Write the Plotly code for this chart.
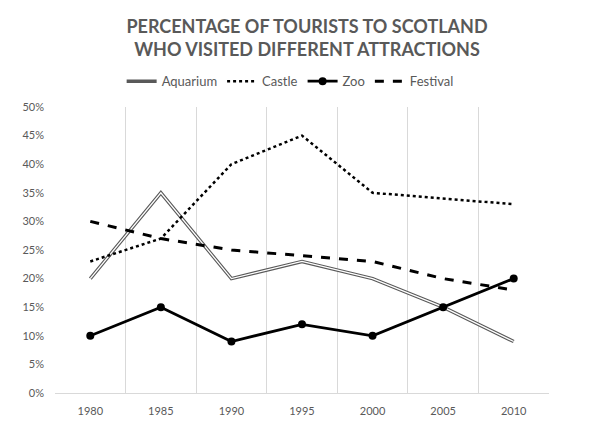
import plotly.graph_objects as go

years = ["1980", "1985", "1990", "1995", "2000", "2005", "2010"]
aquarium = [20, 35, 20, 23, 20, 15, 9]
castle = [23, 27, 40, 45, 35, 34, 33]
zoo = [10, 15, 9, 12, 10, 15, 20]
festival = [30, 27, 25, 24, 23, 20, 18]
y_ticks = [0, 5, 10, 15, 20, 25, 30, 35, 40, 45, 50]
y_labels = [f"{v}%" for v in y_ticks]

fig = go.Figure()
fig.add_trace(go.Scatter(x=years, y=aquarium, mode="lines", name="Aquarium",
                         line=dict(color="#595959", width=3.5), legendgroup="aq"))
fig.add_trace(go.Scatter(x=years, y=aquarium, mode="lines", name="Aquarium",
                         line=dict(color="white", width=1.3), legendgroup="aq",
                         showlegend=False, hoverinfo="skip"))
fig.add_trace(go.Scatter(x=years, y=castle, mode="lines", name="Castle",
                         line=dict(color="black", width=2.5, dash="dot")))
fig.add_trace(go.Scatter(x=years, y=zoo, mode="lines+markers", name="Zoo",
                         line=dict(color="black", width=2.8),
                         marker=dict(size=8, color="black")))
fig.add_trace(go.Scatter(x=years, y=festival, mode="lines", name="Festival",
                         line=dict(color="black", width=3, dash="dash")))

fig.update_layout(
    width=614, height=433,
    paper_bgcolor="white", plot_bgcolor="white",
    margin=dict(l=55, r=65, t=107, b=40),
    title=dict(text="PERCENTAGE OF TOURISTS TO SCOTLAND<br>WHO VISITED DIFFERENT ATTRACTIONS",
               x=0.5, xanchor="center", y=1 - 33 / 433, yanchor="middle",
               font=dict(family="Lato", size=18, color="#595959", weight="bold")),
    legend=dict(orientation="h", x=0.476, xanchor="center", y=1.09, yanchor="middle",
                font=dict(family="Lato", size=13, color="#595959"),
                itemwidth=30, tracegroupgap=0),
    font=dict(family="Lato", color="#595959"),
    xaxis=dict(type="category", tickson="boundaries", showgrid=True,
               gridcolor="#d9d9d9", gridwidth=1, showline=True, linecolor="#d9d9d9",
               ticks="", tickfont=dict(size=11, color="#595959"), range=[-0.5, 6.5],
               zeroline=False, ticklabelstandoff=8),
    yaxis=dict(range=[0, 50], tickvals=y_ticks, ticktext=y_labels, showgrid=False,
               zeroline=False, showline=False, ticks="",
               tickfont=dict(size=11, color="#595959"), ticklabelstandoff=10),
    showlegend=True,
)

fig.write_html("out.html", config={"displayModeBar": False},
               post_script="document.body.style.margin='0';")
